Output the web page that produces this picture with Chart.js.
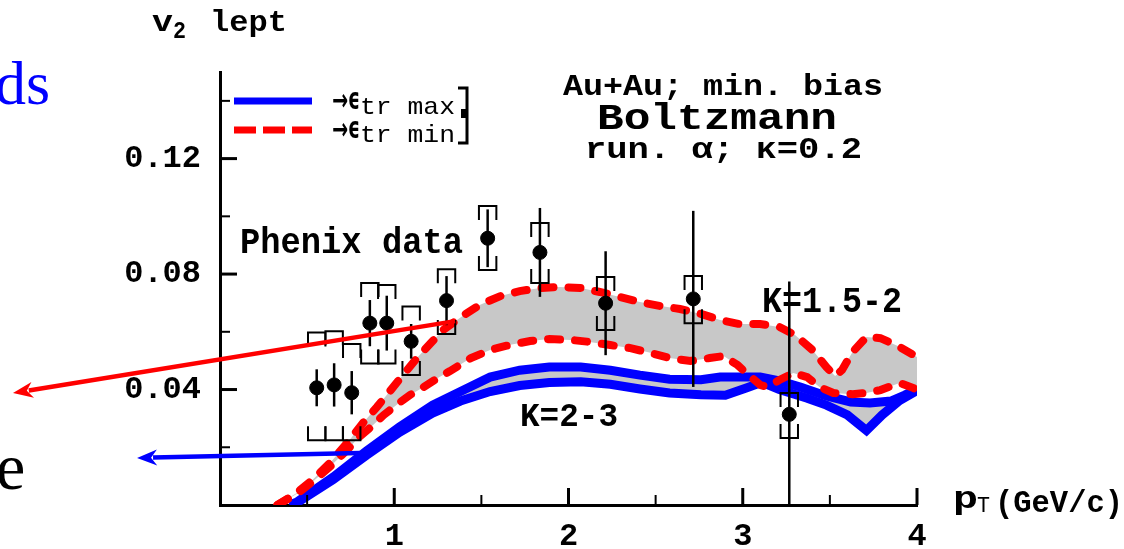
<!DOCTYPE html>
<html>
<head>
<meta charset="utf-8">
<title>v2 lept</title>
<script src="https://cdn.jsdelivr.net/npm/chart.js@4.4.1/dist/chart.umd.min.js"></script>
<style>
  html, body { margin: 0; padding: 0; background: #fff; overflow: hidden; }
</style>
</head>
<body>
<canvas id="v2chart" width="1124" height="549"></canvas>
<script>
// theory bands, [pT, v2]
const redUpper = [[0.33,0.000],[0.44,0.0042],[0.53,0.0087],[0.63,0.0145],[0.73,0.0215],[0.82,0.0284],[0.90,0.0339],
  [0.98,0.0398],[1.05,0.0450],[1.13,0.0509],[1.21,0.0561],[1.28,0.0606],[1.40,0.0658],[1.49,0.0693],[1.61,0.0724],
  [1.72,0.0741],[1.84,0.0752],[1.95,0.0755],[2.07,0.0752],[2.18,0.0738],[2.30,0.0720],[2.41,0.0703],[2.53,0.0689],
  [2.64,0.0679],[2.76,0.0662],[2.87,0.0641],[2.98,0.0627],[3.10,0.0627],[3.21,0.0617],[3.30,0.0589],[3.40,0.0537],
  [3.48,0.0478],[3.53,0.0447],[3.57,0.0468],[3.63,0.0530],[3.71,0.0582],[3.79,0.0578],[3.89,0.0551],[4.00,0.0513]];
const redLower = [[0.33,0.000],[0.44,0.0038],[0.53,0.0080],[0.63,0.0132],[0.73,0.0191],[0.80,0.0236],[0.86,0.0267],
  [0.94,0.0312],[1.02,0.0350],[1.09,0.0381],[1.17,0.0409],[1.25,0.0440],[1.32,0.0464],[1.44,0.0509],[1.55,0.0537],
  [1.66,0.0554],[1.78,0.0568],[1.89,0.0575],[2.01,0.0572],[2.12,0.0565],[2.24,0.0554],[2.35,0.0544],[2.47,0.0527],
  [2.58,0.0509],[2.70,0.0499],[2.81,0.0509],[2.89,0.0516],[2.97,0.0485],[3.02,0.0457],[3.10,0.0416],[3.14,0.0409],
  [3.21,0.0433],[3.29,0.0457],[3.37,0.0443],[3.44,0.0409],[3.52,0.0388],[3.63,0.0384],[3.71,0.0388],[3.79,0.0398],
  [3.90,0.0423],[3.98,0.0405],[4.00,0.0398]];
const blueUpper = [[0.40,0.000],[0.44,0.0010],[0.65,0.0097],[0.84,0.0187],[1.03,0.0270],[1.22,0.0346],[1.38,0.0393],
  [1.55,0.0443],[1.72,0.0467],[1.89,0.0478],[2.07,0.0478],[2.24,0.0467],[2.41,0.0450],[2.58,0.0436],[2.76,0.0434],
  [2.87,0.0443],[2.98,0.0443],[3.10,0.0443],[3.21,0.0430],[3.33,0.0409],[3.48,0.0378],[3.62,0.0357],[3.73,0.0353],
  [3.85,0.0360],[3.93,0.0381],[4.00,0.0402]];
const blueLower = [[0.40,0.000],[0.44,0.0007],[0.65,0.0088],[0.84,0.0172],[1.03,0.0252],[1.22,0.0318],[1.38,0.0360],
  [1.55,0.0393],[1.72,0.0414],[1.89,0.0424],[2.07,0.0427],[2.24,0.0418],[2.41,0.0402],[2.58,0.0388],[2.76,0.0382],
  [2.90,0.0380],[3.02,0.0405],[3.11,0.0425],[3.21,0.0400],[3.37,0.0370],[3.48,0.0346],[3.60,0.0312],[3.71,0.0258],
  [3.80,0.0312],[3.90,0.0362],[4.00,0.0396]];

// Phenix data
const phenixX     = [0.555, 0.655, 0.756, 0.860, 0.957, 1.097, 1.300, 1.536, 1.836, 2.213, 2.716, 3.267];
const phenixY     = [0.0406, 0.0416, 0.0389, 0.0630, 0.0630, 0.0567, 0.0708, 0.0924, 0.0875, 0.0699, 0.0714, 0.0314];
const phenixStat  = [0.0064, 0.0075, 0.0075, 0.0080, 0.0095, 0.0060, 0.0085, 0.0100, 0.0154, 0.0180, 0.0305, 0.0460];
const phenixSysHi = [0.0598, 0.0602, 0.0558, 0.0769, 0.0762, 0.0688, 0.0817, 0.1036, 0.0977, 0.0790, 0.0793, 0.0388];
const phenixSysLo = [0.0224, 0.0224, 0.0224, 0.0490, 0.0490, 0.0450, 0.0592, 0.0814, 0.0769, 0.0606, 0.0630, 0.0232];

// ticks
const xTickLabels = [1, 2, 3, 4];
const xMinorTicks = [0.5, 1.5, 2.5, 3.5];
const yTickLabels = [0.04, 0.08, 0.12];
const yMinorTicks = [0.02, 0.06, 0.10, 0.14];

const MONO = '"Liberation Mono", "DejaVu Sans Mono", monospace';
const SANS = '"DejaVu Sans", sans-serif';
const SERIF = '"Liberation Serif", "DejaVu Serif", serif';
const toXY = arr => arr.map(p => ({ x: p[0], y: p[1] }));

// draw text squeezed/stretched to a target width
function fitText(ctx, str, x, y, font, w, color) {
    ctx.save();
    ctx.font = font;
    ctx.fillStyle = color || '#000';
    ctx.textAlign = 'left';
    ctx.textBaseline = 'alphabetic';
    const k = w ? w / ctx.measureText(str).width : 1;
    ctx.translate(x, y);
    ctx.scale(k, 1);
    ctx.fillText(str, 0, 0);
    ctx.restore();
}

function arrow(ctx, x0, y0, x1, y1, color) {
    const a = Math.atan2(y1 - y0, x1 - x0);
    const len = 20, half = 8;
    ctx.save();
    ctx.strokeStyle = color;
    ctx.fillStyle = color;
    ctx.lineWidth = 4.5;
    ctx.beginPath();
    ctx.moveTo(x0, y0);
    ctx.lineTo(x1 - Math.cos(a) * len * 0.8, y1 - Math.sin(a) * len * 0.8);
    ctx.stroke();
    ctx.beginPath();
    ctx.moveTo(x1, y1);
    ctx.lineTo(x1 - Math.cos(a) * len + Math.sin(a) * half, y1 - Math.sin(a) * len - Math.cos(a) * half);
    ctx.lineTo(x1 - Math.cos(a) * len * 0.7, y1 - Math.sin(a) * len * 0.7);
    ctx.lineTo(x1 - Math.cos(a) * len - Math.sin(a) * half, y1 - Math.sin(a) * len + Math.cos(a) * half);
    ctx.closePath();
    ctx.fill();
    ctx.restore();
}

const decor = {
    id: 'decor',
    // error bars and systematic brackets, under the points
    beforeDatasetDraw(chart, args) {
        if (args.index !== 4) return;
        const ctx = chart.ctx, xs = chart.scales.x, ys = chart.scales.y, area = chart.chartArea;
        ctx.save();
        ctx.beginPath();
        ctx.rect(area.left, area.top, area.right - area.left, area.bottom - area.top);
        ctx.clip();
        ctx.strokeStyle = '#000';
        phenixX.forEach((x, i) => {
            const px = xs.getPixelForValue(x);
            ctx.lineWidth = 2.5;
            ctx.beginPath();
            ctx.moveTo(px, ys.getPixelForValue(phenixY[i] + phenixStat[i]));
            ctx.lineTo(px, ys.getPixelForValue(phenixY[i] - phenixStat[i]));
            ctx.stroke();
            const l = xs.getPixelForValue(x - 0.05), r = xs.getPixelForValue(x + 0.05);
            const hi = ys.getPixelForValue(phenixSysHi[i]), lo = ys.getPixelForValue(phenixSysLo[i]);
            ctx.lineWidth = 2;
            ctx.beginPath();
            ctx.moveTo(l, hi + 14); ctx.lineTo(l, hi); ctx.lineTo(r, hi); ctx.lineTo(r, hi + 14);
            ctx.moveTo(l, lo - 14); ctx.lineTo(l, lo); ctx.lineTo(r, lo); ctx.lineTo(r, lo - 14);
            ctx.stroke();
        });
        ctx.restore();
    },
    afterDraw(chart) {
        const ctx = chart.ctx, xs = chart.scales.x, ys = chart.scales.y, area = chart.chartArea;
        ctx.save();
        ctx.strokeStyle = '#000';
        // inward ticks
        const tick = (x0, y0, x1, y1, w) => {
            ctx.lineWidth = w; ctx.beginPath(); ctx.moveTo(x0, y0); ctx.lineTo(x1, y1); ctx.stroke();
        };
        yTickLabels.forEach(v => { const p = ys.getPixelForValue(v); tick(area.left, p, area.left + 17, p, 3); });
        yMinorTicks.forEach(v => { const p = ys.getPixelForValue(v); tick(area.left, p, area.left + 10, p, 2); });
        xTickLabels.forEach(v => { const p = xs.getPixelForValue(v); tick(p, area.bottom, p, area.bottom - 17, 3); });
        xMinorTicks.forEach(v => { const p = xs.getPixelForValue(v); tick(p, area.bottom, p, area.bottom - 10, 2); });
        ctx.restore();

        // axis titles
        fitText(ctx, 'v', 152, 31, 'bold 30px ' + MONO, 21);
        fitText(ctx, '2', 173, 38, 'bold 24px ' + MONO, 13);
        fitText(ctx, 'lept', 210, 31, 'bold 30px ' + MONO, 77);
        fitText(ctx, 'p', 953, 508, 'bold 31px ' + MONO, 25);
        fitText(ctx, 'T', 977, 512, '22px ' + MONO, 13);
        fitText(ctx, '(GeV/c)', 995, 512, 'bold 31px ' + MONO, 128);

        // annotations
        fitText(ctx, 'Au+Au; min. bias', 563, 95, 'bold 30px ' + MONO, 320);
        fitText(ctx, 'Boltzmann', 597, 129, 'bold 37px ' + MONO, 240);
        fitText(ctx, 'run. α; κ=0.2', 585, 158, 'bold 30px ' + MONO, 277);
        fitText(ctx, 'Phenix data', 240, 253, 'bold 36px ' + MONO, 223);
        fitText(ctx, 'K=1.5-2', 762, 312, 'bold 36px ' + MONO, 140);
        fitText(ctx, 'K=2-3', 520, 426, 'bold 34px ' + MONO, 98);

        // legend
        ctx.save();
        ctx.lineWidth = 7;
        ctx.strokeStyle = '#0000ff';
        ctx.beginPath(); ctx.moveTo(234, 101); ctx.lineTo(312, 101); ctx.stroke();
        ctx.strokeStyle = '#ff0000';
        ctx.setLineDash([22, 7]);
        ctx.beginPath(); ctx.moveTo(234, 130); ctx.lineTo(312, 130); ctx.stroke();
        ctx.setLineDash([]);
        ctx.strokeStyle = '#000';
        ctx.lineWidth = 3;
        ctx.beginPath(); ctx.moveTo(458, 88); ctx.lineTo(467, 88); ctx.lineTo(467, 143); ctx.lineTo(458, 143); ctx.stroke();
        ctx.fillStyle = '#000';
        ctx.fillRect(461, 109, 7, 9);
        ctx.restore();
        fitText(ctx, '→', 332, 110, 'bold 30px ' + SANS, 16);
        fitText(ctx, 'ϵ', 348, 109, 'bold 30px ' + SANS, 12);
        fitText(ctx, 'tr max', 360, 114, '24px ' + MONO, 95);
        fitText(ctx, '→', 332, 139, 'bold 30px ' + SANS, 16);
        fitText(ctx, 'ϵ', 348, 138, 'bold 30px ' + SANS, 12);
        fitText(ctx, 'tr min', 360, 142, '24px ' + MONO, 95);

        // slide overlay: arrows and cut-off text
        arrow(ctx, xs.getPixelForValue(1.349), ys.getPixelForValue(0.0637),
                   xs.getPixelForValue(-1.188), ys.getPixelForValue(0.0388), '#ff0000');
        arrow(ctx, xs.getPixelForValue(0.803), ys.getPixelForValue(0.0180),
                   xs.getPixelForValue(-0.476), ys.getPixelForValue(0.0163), '#0000ff');
        fitText(ctx, 'ds', -5, 104, '62px ' + SERIF, null, '#0000ff');
        fitText(ctx, 'e', -4, 489, '66px ' + SERIF, null, '#000');
    }
};

const ctx = document.getElementById('v2chart').getContext('2d');
const chart = new Chart(ctx, {
    type: 'line',
    data: {
        datasets: [
            { label: 'redUpper', data: toXY(redUpper), borderColor: '#ff0000', borderWidth: 8,
              borderDash: [12, 15], borderCapStyle: 'round', pointRadius: 0, fill: false, order: 1 },
            { label: 'redLower', data: toXY(redLower), borderColor: '#ff0000', borderWidth: 8,
              borderDash: [12, 15], borderCapStyle: 'round', pointRadius: 0, fill: '-1',
              backgroundColor: '#c8c8c8', order: 2 },
            { label: 'blueUpper', data: toXY(blueUpper), borderColor: '#0000ff', borderWidth: 9,
              pointRadius: 0, fill: false, order: 3 },
            { label: 'blueLower', data: toXY(blueLower), borderColor: '#0000ff', borderWidth: 9,
              pointRadius: 0, fill: '-1', backgroundColor: '#c8c8c8', order: 4 },
            { label: 'Phenix data', data: phenixX.map((x, i) => ({ x: x, y: phenixY[i] })), showLine: false,
              pointRadius: 7, pointBackgroundColor: '#000', pointBorderColor: '#000', order: 0 }
        ]
    },
    options: {
        responsive: false,
        animation: false,
        devicePixelRatio: 1,
        layout: { padding: { top: 72, right: 207, left: 0, bottom: 0 } },
        plugins: {
            legend: { display: false },
            tooltip: { enabled: false },
            filler: { drawTime: 'beforeDatasetsDraw' }
        },
        scales: {
            x: {
                type: 'linear', min: 0, max: 4,
                grid: { display: false, drawTicks: false },
                border: { display: true, color: '#000', width: 3 },
                afterBuildTicks: s => { s.ticks = xTickLabels.map(v => ({ value: v })); },
                afterFit: s => { s.height = 44; },
                ticks: { color: '#000', padding: 13, maxRotation: 0, autoSkip: false,
                         font: { family: MONO, size: 32, weight: 'bold' },
                         callback: v => String(v) }
            },
            y: {
                type: 'linear', min: 0, max: 0.15,
                grid: { display: false, drawTicks: false },
                border: { display: true, color: '#000', width: 3 },
                afterBuildTicks: s => { s.ticks = yTickLabels.map(v => ({ value: v })); },
                afterFit: s => { s.width = 220; },
                ticks: { color: '#000', padding: 19,
                         font: { family: MONO, size: 32, weight: 'bold' },
                         callback: v => v.toFixed(2) }
            }
        }
    },
    plugins: [decor]
});
</script>
</body>
</html>
